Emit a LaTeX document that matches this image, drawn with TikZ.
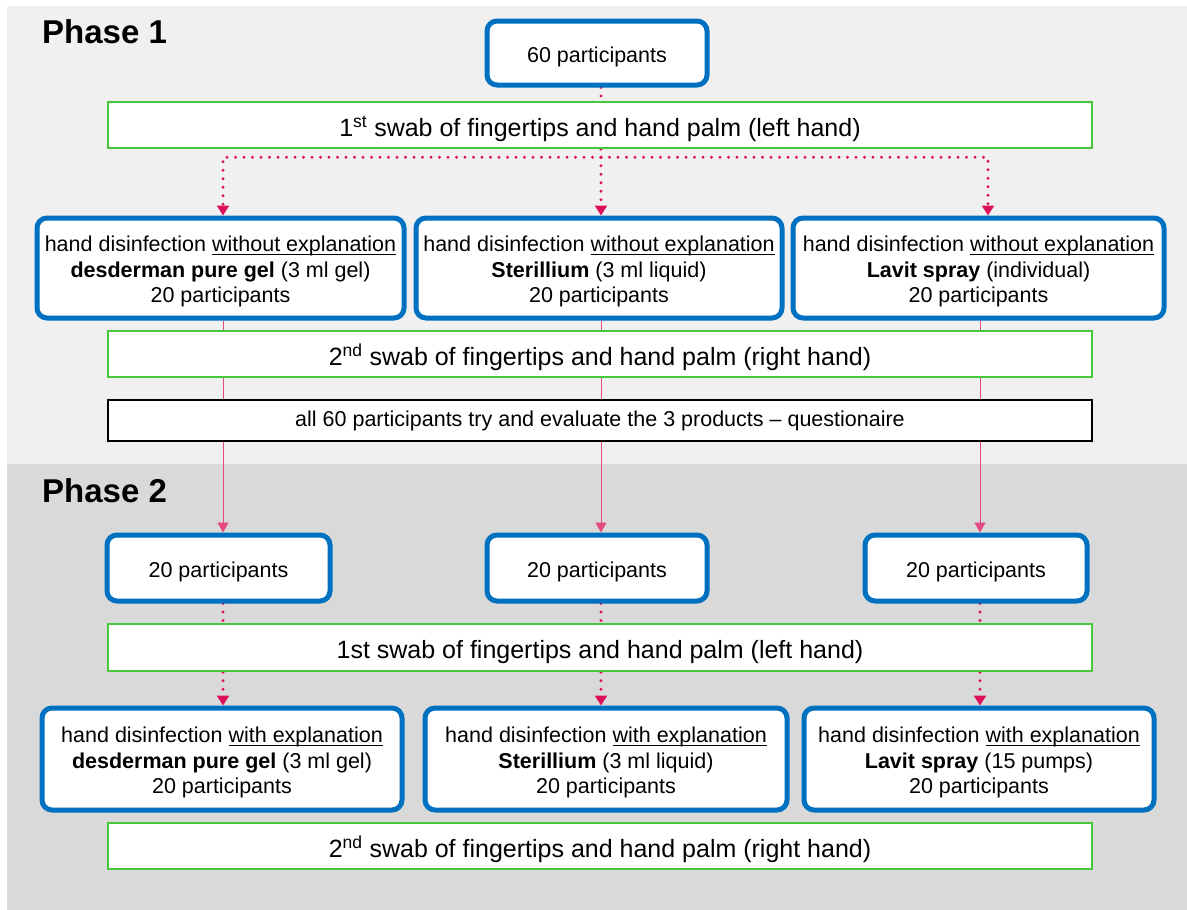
\documentclass[tikz,border=0pt]{standalone}
\usepackage{fontspec}
\setmainfont{Liberation Sans}
\usetikzlibrary{arrows.meta,calc}
\definecolor{pblue}{RGB}{0,112,192}
\definecolor{pgreen}{RGB}{70,200,60}
\definecolor{pred}{RGB}{220,15,90}
\definecolor{bgone}{RGB}{240,240,240}
\definecolor{bgtwo}{RGB}{217,217,217}
\pgfdeclarelayer{bg}\pgfdeclarelayer{conn}\pgfsetlayers{bg,conn,main}
\newcommand\myul[1]{\setbox0\hbox{#1}\rlap{\rule[-3.5pt]{\wd0}{1.2pt}}\box0}
\newcommand\bstrut{\rule{0pt}{22.5pt}}
\newcommand\gstrut{\rule{0pt}{27.5pt}}
\tikzset{
  bluebox/.style={draw=pblue, line width=5pt, rounded corners=10pt, fill=white, align=center, inner sep=0pt,
    font=\fontsize{21.5}{25.5}\selectfont},
  greenbox/.style={draw=pgreen, line width=2.5pt, fill=white, inner sep=0pt, minimum width=984pt,
    font=\fontsize{25}{30}\selectfont},
  blackbox/.style={draw=black, line width=2.5pt, fill=white, inner sep=0pt, minimum width=984pt,
    font=\fontsize{21.5}{25.5}\selectfont},
  phaselabel/.style={anchor=base west, inner sep=0pt, font=\fontsize{33}{33}\selectfont\bfseries},
  dotline/.style={draw=pred, line width=3.2pt, line cap=round, dash pattern=on 0pt off 8.5pt},
  dotarrow/.style={dotline, -{Triangle[width=12pt,length=10pt]}},
  thinline/.style={draw=pred!75, line width=0.8pt, -{Triangle[width=11pt,length=10pt]}},
}
\begin{document}
\begin{tikzpicture}[x=1pt,y=-1pt]
\useasboundingbox (0,0) rectangle (1187,910);
\begin{pgfonlayer}{bg}
  \fill[white] (0,0) rectangle (1187,910);
  \fill[bgone] (7,6) rectangle (1187,464);
  \fill[bgtwo] (7,464) rectangle (1187,910);
\end{pgfonlayer}
\coordinate (a1) at (223,0);
\coordinate (a2) at (601,0);
\coordinate (a3) at (980,0);
\coordinate (a3t) at (988,0);

\node[phaselabel] (ph1) at (42,43) {Phase 1};
\node[phaselabel] (ph2) at (42,502) {Phase 2};

\node[bluebox, minimum width=220pt, minimum height=64pt] (top) at (597,53) {\bstrut 60 participants};
\node[greenbox, minimum height=46pt] (sw1) at (600,125) {\gstrut 1\textsuperscript{st} swab of fingertips and hand palm (left hand)};

\node[bluebox, minimum width=367pt, minimum height=100pt] (b1) at (220.5,268)
  {\bstrut hand disinfection \myul{without explanation}\\ \textbf{desderman pure gel} (3 ml gel)\\ 20 participants};
\node[bluebox, minimum width=366pt, minimum height=100pt] (b2) at (599,268)
  {\bstrut hand disinfection \myul{without explanation}\\ \textbf{Sterillium} (3 ml liquid)\\ 20 participants};
\node[bluebox, minimum width=371pt, minimum height=100pt] (b3) at (978.5,268)
  {\bstrut hand disinfection \myul{without explanation}\\ \textbf{Lavit spray} (individual)\\ 20 participants};

\node[greenbox, minimum height=46pt] (sw2) at (600,354) {\gstrut 2\textsuperscript{nd} swab of fingertips and hand palm (right hand)};
\node[blackbox, minimum height=41pt] (q) at (600,420.5) {all 60 participants try and evaluate the 3 products -- questionaire};

\node[bluebox, minimum width=223pt, minimum height=66pt] (c1) at (218.5,568) {\bstrut 20 participants};
\node[bluebox, minimum width=220pt, minimum height=66pt] (c2) at (597,568) {\bstrut 20 participants};
\node[bluebox, minimum width=222pt, minimum height=66pt] (c3) at (976,568) {\bstrut 20 participants};

\node[greenbox, minimum height=47pt] (sw3) at (600,647.5) {\gstrut 1st swab of fingertips and hand palm (left hand)};

\node[bluebox, minimum width=360pt, minimum height=102pt] (d1) at (222,759)
  {\bstrut hand disinfection \myul{with explanation}\\ \textbf{desderman pure gel} (3 ml gel)\\ 20 participants};
\node[bluebox, minimum width=362pt, minimum height=102pt] (d2) at (606,759)
  {\bstrut hand disinfection \myul{with explanation}\\ \textbf{Sterillium} (3 ml liquid)\\ 20 participants};
\node[bluebox, minimum width=350pt, minimum height=102pt] (d3) at (979,759)
  {\bstrut hand disinfection \myul{with explanation}\\ \textbf{Lavit spray} (15 pumps)\\ 20 participants};

\node[greenbox, minimum height=46pt] (sw4) at (600,846) {\gstrut 2\textsuperscript{nd} swab of fingertips and hand palm (right hand)};

\begin{pgfonlayer}{conn}
  \draw[dotline] (top.south -| a2) -- (sw1.north -| a2);
  \coordinate (hub) at ($(sw1.south -| a2)+(0,8)$);
  \draw[dotline] (sw1.south -| a2) -- (hub);
  \draw[dotarrow] (hub) -| (b1.north -| a1);
  \draw[dotarrow] (hub) -- (b2.north -| a2);
  \draw[dotarrow] (hub) -| (b3.north -| a3t);

  \draw[thinline] (b1.south -| a1) -- (c1.north -| a1);
  \draw[thinline] (b2.south -| a2) -- (c2.north -| a2);
  \draw[thinline] (b3.south -| a3) -- (c3.north -| a3);

  \draw[dotline] (c1.south -| a1) -- (sw3.north -| a1);
  \draw[dotline] (c2.south -| a2) -- (sw3.north -| a2);
  \draw[dotline] (c3.south -| a3) -- (sw3.north -| a3);
  \draw[dotarrow] (sw3.south -| a1) -- (d1.north -| a1);
  \draw[dotarrow] (sw3.south -| a2) -- (d2.north -| a2);
  \draw[dotarrow] (sw3.south -| a3) -- (d3.north -| a3);
\end{pgfonlayer}
\end{tikzpicture}
\end{document}
